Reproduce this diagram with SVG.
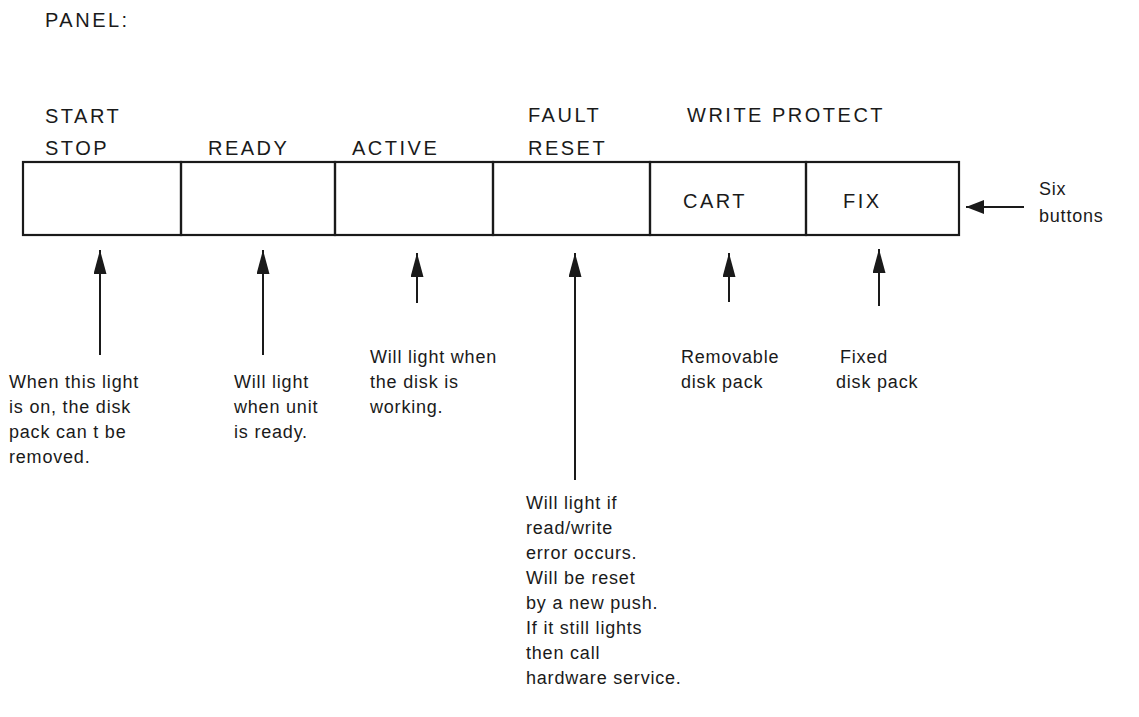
<svg xmlns="http://www.w3.org/2000/svg" width="1139" height="717" viewBox="0 0 1139 717">
  <style>
    .lbl { font-family: "Liberation Sans", Arial, sans-serif; font-size: 20px; letter-spacing: 2.5px; fill: #1a1a1a; }
    .note { font-family: "Liberation Sans", Arial, sans-serif; font-size: 18px; letter-spacing: 0.8px; fill: #1a1a1a; }
    .box { fill: none; stroke: #1a1a1a; stroke-width: 2.2; }
    .conn { stroke: #1a1a1a; stroke-width: 2; fill: none; }
  </style>
  <defs>
    <marker id="head" viewBox="0 0 18 14" refX="18" refY="7" markerWidth="18" markerHeight="14" markerUnits="userSpaceOnUse" orient="auto">
      <path d="M0,0 L18,7 L0,14 Z" fill="#1a1a1a"/>
    </marker>
    <marker id="headL" viewBox="0 0 24 13" refX="24" refY="6.5" markerWidth="24" markerHeight="13" markerUnits="userSpaceOnUse" orient="auto">
      <path d="M0,0 L24,6.5 L0,13 Z" fill="#1a1a1a"/>
    </marker>
  </defs>
  <rect width="1139" height="717" fill="#ffffff"/>

  <text class="lbl" x="45" y="27">PANEL:</text>

  <!-- button row -->
  <g id="start-stop">
    <rect class="box" x="23" y="162" width="158" height="73"/>
    <text class="lbl" x="45" y="123">START</text>
    <text class="lbl" x="45" y="155">STOP</text>
  </g>
  <g id="ready">
    <rect class="box" x="181" y="162" width="154" height="73"/>
    <text class="lbl" x="208" y="155">READY</text>
  </g>
  <g id="active">
    <rect class="box" x="335" y="162" width="158" height="73"/>
    <text class="lbl" x="352" y="155">ACTIVE</text>
  </g>
  <g id="fault-reset">
    <rect class="box" x="493" y="162" width="157" height="73"/>
    <text class="lbl" x="528" y="122">FAULT</text>
    <text class="lbl" x="528" y="155">RESET</text>
  </g>
  <g id="write-protect">
    <text class="lbl" x="687" y="122">WRITE PROTECT</text>
  </g>
  <g id="cart">
    <rect class="box" x="650" y="162" width="156" height="73"/>
    <text class="lbl" x="683" y="208">CART</text>
  </g>
  <g id="fix">
    <rect class="box" x="806" y="162" width="153" height="73"/>
    <text class="lbl" x="843" y="208">FIX</text>
  </g>
  <g id="six-buttons">
    <text class="note" x="1039" y="195">Six</text>
    <text class="note" x="1039" y="222">buttons</text>
  </g>

  <!-- connectors -->
  <g id="connectors">
    <line class="conn" x1="1024" y1="207" x2="966" y2="207" marker-end="url(#head)"/>
    <line class="conn" x1="100" y1="355" x2="100" y2="250" marker-end="url(#headL)"/>
    <line class="conn" x1="263" y1="355" x2="263" y2="250" marker-end="url(#headL)"/>
    <line class="conn" x1="417" y1="303" x2="417" y2="253" marker-end="url(#headL)"/>
    <line class="conn" x1="575" y1="480" x2="575" y2="253" marker-end="url(#headL)"/>
    <line class="conn" x1="729" y1="302" x2="729" y2="253" marker-end="url(#headL)"/>
    <line class="conn" x1="879" y1="306" x2="879" y2="249" marker-end="url(#headL)"/>
  </g>

  <!-- notes -->
  <g id="note-start-stop">
    <text class="note" x="9" y="388">When this light</text>
    <text class="note" x="9" y="413">is on, the disk</text>
    <text class="note" x="9" y="438">pack can t be</text>
    <text class="note" x="9" y="463">removed.</text>
  </g>
  <g id="note-ready">
    <text class="note" x="234" y="388">Will light</text>
    <text class="note" x="234" y="413">when unit</text>
    <text class="note" x="234" y="438">is ready.</text>
  </g>
  <g id="note-active">
    <text class="note" x="370" y="363">Will light when</text>
    <text class="note" x="370" y="388">the disk is</text>
    <text class="note" x="370" y="413">working.</text>
  </g>
  <g id="note-fault">
    <text class="note" x="526" y="509">Will light if</text>
    <text class="note" x="526" y="534">read/write</text>
    <text class="note" x="526" y="559">error occurs.</text>
    <text class="note" x="526" y="584">Will be reset</text>
    <text class="note" x="526" y="609">by a new push.</text>
    <text class="note" x="526" y="634">If it still lights</text>
    <text class="note" x="526" y="659">then call</text>
    <text class="note" x="526" y="684">hardware service.</text>
  </g>
  <g id="note-cart">
    <text class="note" x="681" y="363">Removable</text>
    <text class="note" x="681" y="388">disk pack</text>
  </g>
  <g id="note-fix">
    <text class="note" x="840" y="363">Fixed</text>
    <text class="note" x="836" y="388">disk pack</text>
  </g>
</svg>
